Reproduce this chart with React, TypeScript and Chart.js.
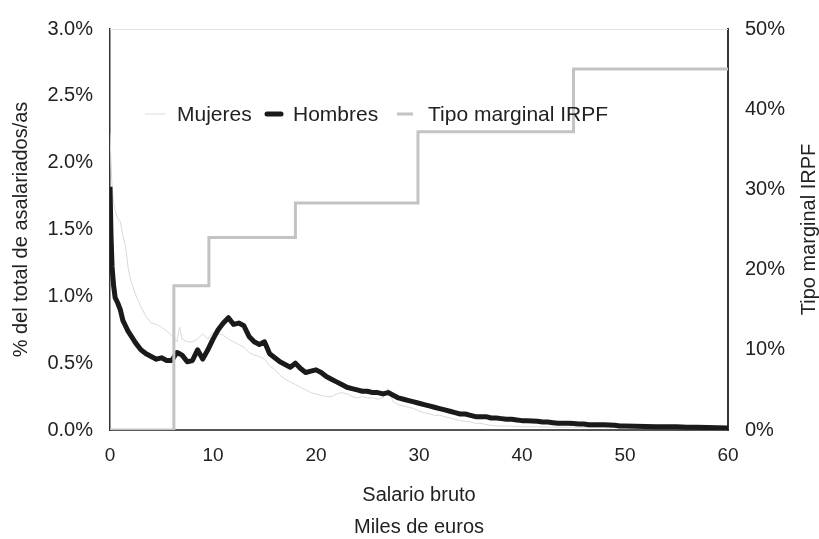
import React, { useEffect, useRef } from "react";
import { Chart, registerables } from "chart.js";

Chart.register(...registerables);

// Salario bruto (miles de euros)
const salario = [
  0, 0.1, 0.2, 0.35, 0.5, 0.75, 1, 1.25, 1.5, 1.75,
  2, 2.5, 3, 3.5, 4, 4.5, 5, 5.5, 6, 6.5,
  6.75,
  7, 7.5, 8, 8.5, 9, 9.5, 10, 10.5, 11, 11.5,
  12, 12.5, 13, 13.5, 14, 14.5, 15, 15.5, 16, 16.5,
  17, 17.5, 18, 18.5, 19, 19.5, 20, 20.5, 21, 21.5,
  22, 22.5, 23, 23.5, 24, 24.5, 25, 25.5, 26, 26.5,
  27, 27.5, 28, 28.5, 29, 29.5, 30, 30.5, 31, 31.5,
  32, 32.5, 33, 33.5, 34, 34.5, 35, 35.5, 36, 36.5,
  37, 37.5, 38, 38.5, 39, 39.5, 40, 40.5, 41, 41.5,
  42, 42.5, 43, 43.5, 44, 44.5, 45, 45.5, 46, 46.5,
  47, 47.5, 48, 48.5, 49, 49.5, 50,
  51, 52, 53, 54, 55, 56, 57, 58, 59, 60,
];

// % del total de asalariados (hombres)
const hombres = [
  1.82, 1.45, 1.22, 1.08, 0.99, 0.95, 0.9, 0.82, 0.78, 0.74,
  0.71, 0.65, 0.6, 0.57, 0.55, 0.53, 0.54, 0.52, 0.52, 0.58,
  0.57,
  0.56, 0.51, 0.52, 0.6, 0.53, 0.6, 0.68, 0.75, 0.8, 0.84,
  0.79, 0.8, 0.78, 0.7, 0.66, 0.64, 0.66, 0.57, 0.54, 0.51,
  0.49, 0.47, 0.5, 0.46, 0.43, 0.44, 0.45, 0.43, 0.4, 0.38,
  0.36, 0.34, 0.32, 0.31, 0.3, 0.29, 0.29, 0.28, 0.28, 0.27,
  0.28, 0.26, 0.24, 0.23, 0.22, 0.21, 0.2, 0.19, 0.18, 0.17,
  0.16, 0.15, 0.14, 0.13, 0.12, 0.12, 0.11, 0.1, 0.1, 0.1,
  0.09, 0.09, 0.085, 0.08, 0.08, 0.075, 0.07, 0.07, 0.068, 0.065,
  0.06, 0.06, 0.055, 0.05, 0.05, 0.05, 0.048, 0.045, 0.045, 0.04,
  0.04, 0.04, 0.04, 0.038, 0.035, 0.03, 0.03,
  0.028, 0.027, 0.025, 0.025, 0.024, 0.02, 0.02, 0.018, 0.017, 0.015,
];

// % del total de asalariadas (mujeres)
const mujeres = [
  2.22, 2.0, 1.82, 1.7, 1.64, 1.58, 1.56, 1.45, 1.38, 1.22,
  1.12, 1.01, 0.92, 0.85, 0.8, 0.79, 0.77, 0.74, 0.71, 0.66,
  0.77,
  0.68, 0.66, 0.66, 0.68, 0.72, 0.68, 0.73, 0.72, 0.71, 0.68,
  0.66, 0.64, 0.62, 0.58, 0.56, 0.55, 0.53, 0.48, 0.45, 0.41,
  0.38, 0.36, 0.34, 0.32, 0.3, 0.28, 0.27, 0.26, 0.25, 0.25,
  0.27, 0.28, 0.27, 0.25, 0.24, 0.25, 0.24, 0.24, 0.23, 0.24,
  0.31, 0.21, 0.19, 0.18, 0.17, 0.16, 0.14, 0.13, 0.12, 0.11,
  0.11, 0.1, 0.09, 0.08, 0.07, 0.065, 0.06, 0.05, 0.05, 0.04,
  0.035, 0.03, 0.03, 0.03, 0.028, 0.027, 0.025, 0.025, 0.024, 0.024,
  0.023, 0.023, 0.022, 0.022, 0.021, 0.021, 0.02, 0.02, 0.02, 0.019,
  0.019, 0.018, 0.018, 0.017, 0.017, 0.016, 0.015,
  0.015, 0.014, 0.014, 0.013, 0.013, 0.012, 0.012, 0.011, 0.011, 0.01,
];

// Tipo marginal IRPF: inicio del tramo (miles de euros) y tipo (%)
const tramoInicio = [0, 6.2, 9.6, 18, 29.9, 45, 60];
const tipoMarginal = [0, 18, 24, 28.3, 37.2, 45, 45];

const xTicks = [0, 10, 20, 30, 40, 50, 60];

const FONT = "'Liberation Sans', Arial, Helvetica, sans-serif";
const TEXT = "#222222";

const legendPlugin = {
  id: "customLegend",
  beforeDatasetsDraw(chart: any) {
    const { ctx, chartArea } = chart;
    ctx.save();
    ctx.strokeStyle = "#e2e2e2";
    ctx.lineWidth = 1;
    ctx.beginPath();
    ctx.moveTo(chartArea.left, chartArea.top + 0.5);
    ctx.lineTo(chartArea.right, chartArea.top + 0.5);
    ctx.stroke();
    ctx.restore();
  },
  afterDraw(chart: any) {
    const { ctx, chartArea } = chart;
    const y = chartArea.top + 85;
    const l = chartArea.left;
    const items = [
      { label: "Mujeres", color: "#dcdcdc", width: 1, x0: l + 35, x1: l + 56, tx: l + 67, cap: "butt" },
      { label: "Hombres", color: "#1a1a1a", width: 5, x0: l + 157, x1: l + 171, tx: l + 183, cap: "round" },
      { label: "Tipo marginal IRPF", color: "#c3c3c3", width: 3, x0: l + 287, x1: l + 303, tx: l + 318, cap: "butt" },
    ];
    ctx.save();
    ctx.font = `21px ${FONT}`;
    ctx.textBaseline = "middle";
    ctx.textAlign = "left";
    for (const it of items) {
      ctx.strokeStyle = it.color;
      ctx.lineWidth = it.width;
      ctx.lineCap = it.cap;
      ctx.beginPath();
      ctx.moveTo(it.x0, y);
      ctx.lineTo(it.x1, y);
      ctx.stroke();
      ctx.fillStyle = TEXT;
      ctx.fillText(it.label, it.tx, y + 1);
    }
    // right axis title, read bottom-to-top
    ctx.translate(chart.width - 10, (chartArea.top + chartArea.bottom) / 2);
    ctx.rotate(-Math.PI / 2);
    ctx.font = `20px ${FONT}`;
    ctx.textAlign = "center";
    ctx.textBaseline = "middle";
    ctx.fillStyle = TEXT;
    ctx.fillText("Tipo marginal IRPF", 0, 0);
    ctx.restore();
  },
};

export default function App() {
  const canvasRef = useRef<HTMLCanvasElement | null>(null);

  useEffect(() => {
    document.body.style.margin = "0";
    const canvas = canvasRef.current;
    if (!canvas) return;
    const chart = new Chart(canvas, {
      type: "line",
      data: {
        datasets: [
          {
            label: "Tipo marginal IRPF",
            data: tramoInicio.map((x, i) => ({ x, y: tipoMarginal[i] })),
            yAxisID: "y1",
            borderColor: "#c3c3c3",
            borderWidth: 3,
            pointRadius: 0,
            stepped: true,
            order: 0,
          },
          {
            label: "Hombres",
            data: salario.map((x, i) => ({ x, y: hombres[i] })),
            yAxisID: "y",
            borderColor: "#1a1a1a",
            borderWidth: 5,
            pointRadius: 0,
            tension: 0,
            borderJoinStyle: "round",
            order: 1,
          },
          {
            label: "Mujeres",
            data: salario.map((x, i) => ({ x, y: mujeres[i] })),
            yAxisID: "y",
            borderColor: "#d9d9d9",
            borderWidth: 1,
            pointRadius: 0,
            tension: 0,
            order: 2,
          },
        ],
      },
      options: {
        responsive: false,
        animation: false,
        layout: { padding: { top: 27, left: 0, right: 0, bottom: 0 } },
        plugins: {
          legend: { display: false },
          tooltip: { enabled: false },
        },
        scales: {
          x: {
            type: "linear",
            min: 0,
            max: 60,
            afterBuildTicks: (s: any) => {
              s.ticks = xTicks.map((v) => ({ value: v }));
            },
            afterFit: (s: any) => {
              s.height = 109;
            },
            grid: { display: false, drawTicks: false },
            border: { display: true, color: "#555555", width: 2 },
            ticks: {
              padding: 14,
              color: TEXT,
              font: { family: FONT, size: 19 },
              maxRotation: 0,
            },
            title: {
              display: true,
              text: ["Salario bruto", "Miles de euros"],
              color: TEXT,
              font: { family: FONT, size: 20, lineHeight: "32px" },
              padding: { top: 0, bottom: -4 },
            },
          },
          y: {
            position: "left",
            min: 0,
            max: 3,
            afterFit: (s: any) => {
              s.width = 110;
            },
            grid: { display: false, drawTicks: false },
            border: { display: true, color: "#333333", width: 1.5 },
            ticks: {
              stepSize: 0.5,
              padding: 17,
              color: TEXT,
              font: { family: FONT, size: 20 },
              callback: (v: any) => Number(v).toFixed(1) + "%",
            },
            title: {
              display: true,
              text: "% del total de asalariados/as",
              color: TEXT,
              font: { family: FONT, size: 20, lineHeight: "24px" },
              padding: { top: 9, bottom: 0 },
            },
          },
          y1: {
            position: "right",
            min: 0,
            max: 50,
            afterFit: (s: any) => {
              s.width = 91;
            },
            grid: { display: false, drawTicks: false },
            border: { display: true, color: "#333333", width: 2 },
            ticks: {
              stepSize: 10,
              padding: 17,
              color: TEXT,
              font: { family: FONT, size: 20 },
              callback: (v: any) => v + "%",
            },
            title: { display: false },
          },
        },
      },
      plugins: [legendPlugin],
    } as any);
    return () => chart.destroy();
  }, []);

  return (
    <div style={{ width: 819, height: 539, background: "#ffffff" }}>
      <canvas ref={canvasRef} width={819} height={539} />
    </div>
  );
}
